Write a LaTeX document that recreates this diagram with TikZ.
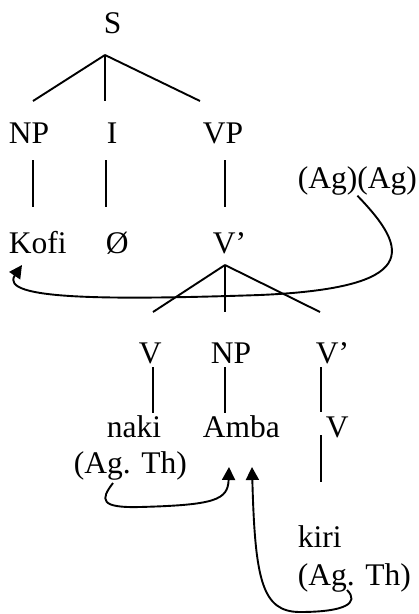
\documentclass[tikz,border=0pt]{standalone}
\usepackage{fontspec}
\setmainfont{Liberation Serif}
\usetikzlibrary{arrows.meta}
\begin{document}
\begin{tikzpicture}[x=1pt,y=-1pt,line width=1.9pt,
    lbl/.style={anchor=base west,inner sep=0pt,font=\fontsize{31.5}{37}\selectfont},
    link/.style={-{Triangle[length=13pt,width=13pt]}}]
        \useasboundingbox (0,0) rectangle (419,614);
        \begin{scope}[every node/.style={lbl}]
            \node (S) at (103,33) {S};
            \node (NP) at (8,143) {NP};
            \node (I) at (106,143) {I};
            \node (VP) at (202,143) {VP};
            \node (AgAg) at (297,188) {(Ag)(Ag)};
            \node (Kofi) at (8,253) {Kofi};
            \node (Null) at (105,253) {Ø};
            \node (Vbar) at (212,253) {V’};
            \node (V) at (138,363) {V};
            \node (NPb) at (210,363) {NP};
            \node (Vbarb) at (315,363) {V’};
            \node (naki) at (106,437) {naki};
            \node (Amba) at (202,437) {Amba};
            \node (Vb) at (325,437) {V};
            \node (ThA) at (73,473) {(Ag. Th)};
            \node (kiri) at (297,547) {kiri};
            \node (ThB) at (297,585) {(Ag. Th)};
        \end{scope}

        % tree points
        \coordinate (s) at (105,55);
        \coordinate (np) at (33,101);
        \coordinate (i) at (105,101);
        \coordinate (vp) at (200,101);
        \coordinate (v) at (225,265);
        \coordinate (vl) at (153,312);
        \coordinate (vm) at (225,312);
        \coordinate (vr) at (320,312);

        \path (s) edge (np) edge (i) edge (vp);
        \path (v) edge (vl) edge (vm) edge (vr);

        \coordinate (a1) at (33,160);  \coordinate (a2) at (33,207);
        \coordinate (b1) at (106,160); \coordinate (b2) at (106,207);
        \coordinate (c1) at (225,160); \coordinate (c2) at (225,207);
        \coordinate (d1) at (153,367); \coordinate (d2) at (153,413);
        \coordinate (e1) at (225,367); \coordinate (e2) at (225,413);
        \coordinate (f1) at (321,367); \coordinate (f2) at (321,412);
        \coordinate (g1) at (321,435); \coordinate (g2) at (321,482);

        \path (a1) edge (a2) (b1) edge (b2) (c1) edge (c2);
        \path (d1) edge (d2) (e1) edge (e2) (f1) edge (f2) (g1) edge (g2);

        % theta links
        \coordinate (toKofi) at (22,265);
        \coordinate (toAmbaA) at (229,467);
        \coordinate (toAmbaB) at (252,467);

        \draw[link] (AgAg.south) .. controls (410,250) and (420,288) .. (260,295)
            .. controls (110,300) and (-2,300) .. (toKofi);
        \draw[link] (113,483) .. controls (100,500) and (100,508) .. (140,507)
            .. controls (215,505) and (228,500) .. (toAmbaA);
        \draw[link] (347,590) .. controls (360,603) and (345,612) .. (300,612)
            .. controls (262,612) and (255,580) .. (toAmbaB);
\end{tikzpicture}
\end{document}
